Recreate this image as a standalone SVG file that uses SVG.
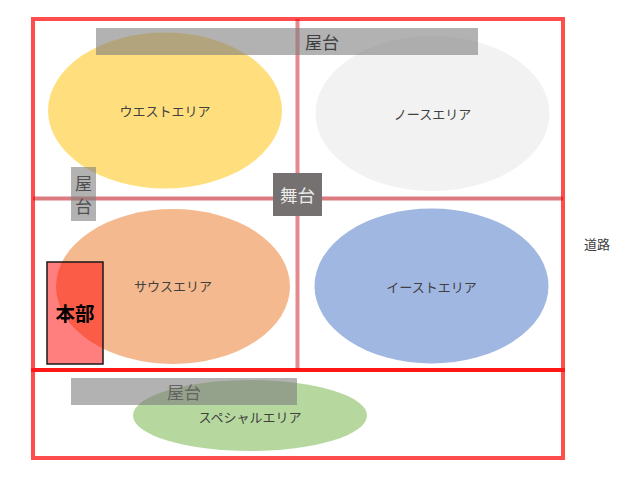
<svg xmlns="http://www.w3.org/2000/svg" width="635" height="480" viewBox="0 0 635 480">
<style>
text{font-family:"Noto Sans CJK JP","Noto Sans",sans-serif;text-anchor:middle;dominant-baseline:central}
.lbl{font-size:13px;fill:#404040}
.bar{fill:#7f7f7f;fill-opacity:0.6}
.yt{font-size:17px;fill:#3f3f3f}
</style>
<rect width="635" height="480" fill="#ffffff"/>
<g id="west"><ellipse cx="165" cy="110.5" rx="117" ry="78" fill="#ffd966" fill-opacity="0.85"/><text class="lbl" x="165" y="110.5">ウエストエリア</text></g>
<g id="north"><ellipse cx="432.5" cy="113.5" rx="117" ry="77.5" fill="#f2f2f2"/><text class="lbl" x="432.5" y="113.5">ノースエリア</text></g>
<g id="south"><ellipse cx="173" cy="286.5" rx="117" ry="77.5" fill="#f4b183" fill-opacity="0.9"/><text class="lbl" x="173" y="285">サウスエリア</text></g>
<g id="east"><ellipse cx="431.5" cy="286" rx="117" ry="77.5" fill="#8faadc" fill-opacity="0.85"/><text class="lbl" x="431.5" y="286">イーストエリア</text></g>
<g id="special"><ellipse cx="250" cy="415.5" rx="117" ry="35.5" fill="#a9d18e" fill-opacity="0.85"/><text class="lbl" x="250" y="416">スペシャルエリア</text></g>
<g id="grid" fill="none">
<line x1="297.5" y1="19" x2="297.5" y2="370" stroke="#d23c44" stroke-opacity="0.6" stroke-width="4"/>
<line x1="33" y1="198.5" x2="563" y2="198.5" stroke="#c8323a" stroke-opacity="0.65" stroke-width="4"/>
<rect x="33" y="19" width="530" height="351" stroke="#ff0000" stroke-opacity="0.7" stroke-width="4"/>
<rect x="33" y="370" width="530" height="88" stroke="#ff0000" stroke-opacity="0.7" stroke-width="4"/>
</g>
<g id="yatai-top"><rect class="bar" x="96" y="28" width="382" height="27"/><text class="yt" x="322" y="41.5">屋台</text></g>
<g id="yatai-left"><rect class="bar" x="71" y="167" width="25" height="54"/><text class="yt" x="83.5" y="182.5" style="fill:#505050">屋</text><text class="yt" x="83.5" y="205.5" style="fill:#505050">台</text></g>
<g id="yatai-bottom"><rect class="bar" x="71" y="378" width="226" height="27"/><text class="yt" x="184" y="391" style="fill:#636363">屋台</text></g>
<g id="stage"><rect x="273" y="173" width="49" height="43" fill="#767171"/><text x="297.5" y="194.5" style="font-size:17.5px;fill:#ececec">舞台</text></g>
<g id="honbu"><rect x="47" y="262" width="56" height="102" fill="#ff0000" fill-opacity="0.5" stroke="#1a1a1a" stroke-width="1.5"/><text x="75" y="312.5" style="font-size:19.5px;font-weight:bold;fill:#000">本部</text></g>
<g id="road"><text x="597" y="243" style="font-size:13px;fill:#404040">道路</text></g>
</svg>
